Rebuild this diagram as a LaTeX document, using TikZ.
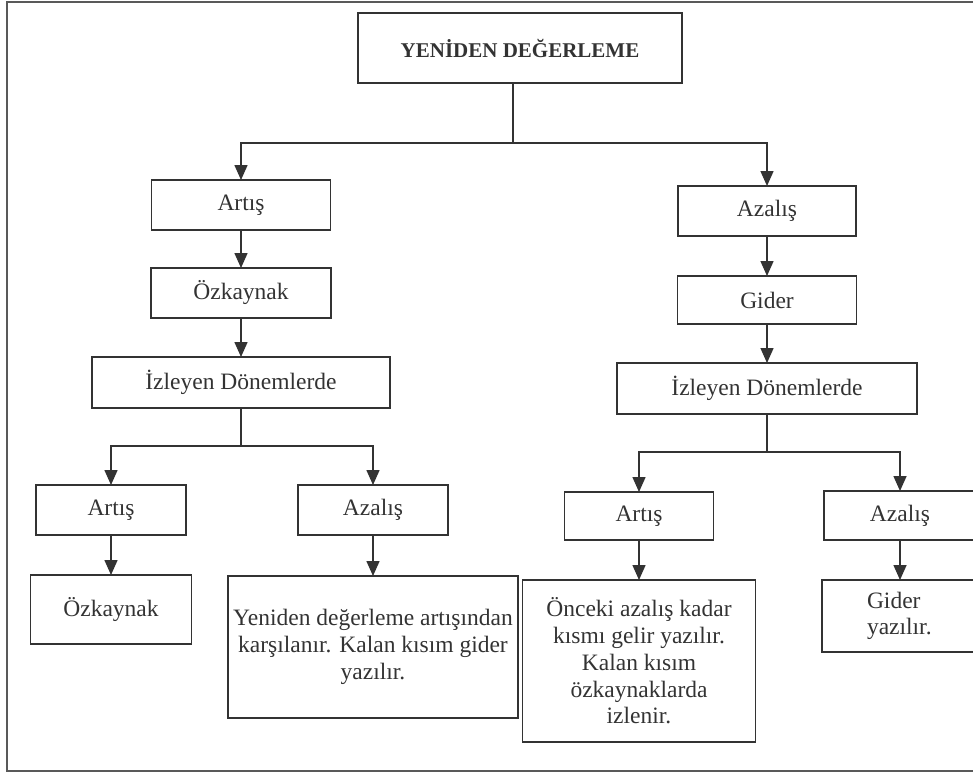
\documentclass[tikz,border=0pt]{standalone}
\usepackage{fontspec}
\setmainfont{Liberation Serif}
\usepackage{tikz}
\usetikzlibrary{positioning,arrows.meta}

\begin{document}
\begin{tikzpicture}[x=1pt,y=-1pt,
  box/.style={draw=black!80,line width=1.4pt,outer sep=0pt,inner sep=2pt,text=black!80,
    font=\fontsize{23.5}{26.7}\selectfont},
  arr/.style={line width=1.5pt,draw=black!80,-{Triangle[length=15pt,width=13pt]}},
  link/.style={line width=1.5pt,draw=black!80}]
\useasboundingbox (0,0) rectangle (973,774);
\draw[line width=2pt,black!65] (7,2) rectangle (990,771);
% top
\node[box,minimum width=324pt,minimum height=70pt,font=\fontsize{21}{24}\selectfont\bfseries] (top) at (520,48) {YENİDEN DEĞERLEME};
\coordinate (forkT) at (513,143);
\draw[link] (top.south -| forkT) -- (forkT);
% left branch
\node[box,minimum width=179pt,minimum height=50pt] (artL) at (241,205) {Artış};
\node[box,minimum width=180pt,minimum height=50pt,below=38pt of artL] (ozkL) {Özkaynak};
\node[box,minimum width=298pt,minimum height=51pt,below=39pt of ozkL] (izlL) {İzleyen Dönemlerde};
% right branch
\node[box,minimum width=178pt,minimum height=50pt] (azaR) at (767,211) {Azalış};
\node[box,minimum width=179pt,minimum height=48pt,below=40pt of azaR] (gidR) {Gider};
\node[box,minimum width=300pt,minimum height=51pt,below=39pt of gidR] (izlR) {İzleyen Dönemlerde};
\draw[arr] (forkT) -| (artL);
\draw[arr] (forkT) -| (azaR);
\draw[arr] (artL) -- (ozkL);
\draw[arr] (ozkL) -- (izlL);
\draw[arr] (azaR) -- (gidR);
\draw[arr] (gidR) -- (izlR);
% left sub-branches
\coordinate (forkL) at (241,446);
\node[box,minimum width=150pt,minimum height=50pt] (artLL) at (111,510) {Artış};
\node[box,minimum width=150pt,minimum height=50pt] (azaLR) at (373,510) {Azalış};
\node[box,minimum width=161pt,minimum height=69pt,below=40pt of artLL] (ozkLL) {Özkaynak};
\node[box,minimum width=290pt,minimum height=142pt,align=center,below=41pt of azaLR] (txtL)
  {Yeniden değerleme artışından\\karşılanır. Kalan kısım gider\\yazılır.};
\draw[link] (izlL) -- (forkL);
\draw[arr] (forkL) -| (artLL);
\draw[arr] (forkL) -| (azaLR);
\draw[arr] (artLL) -- (ozkLL);
\draw[arr] (azaLR) -- (txtL);
% right sub-branches
\coordinate (forkR) at (767,452);
\node[box,minimum width=149pt,minimum height=48pt] (artRL) at (639,516) {Artış};
\node[box,minimum width=152pt,minimum height=49pt] (azaRR) at (900,515.5) {Azalış};
\node[box,minimum width=233pt,minimum height=162pt,align=center,below=40pt of artRL] (txtR)
  {Önceki azalış kadar\\kısmı gelir yazılır.\\Kalan kısım\\özkaynaklarda\\izlenir.};
\node[box,minimum width=156pt,minimum height=72pt,text width=66pt,align=left,below=40pt of azaRR] (gidRR)
  {Gider\\yazılır.};
\draw[link] (izlR) -- (forkR);
\draw[arr] (forkR) -| (artRL);
\draw[arr] (forkR) -| (azaRR);
\draw[arr] (artRL) -- (txtR);
\draw[arr] (azaRR) -- (gidRR);
\end{tikzpicture}
\end{document}
